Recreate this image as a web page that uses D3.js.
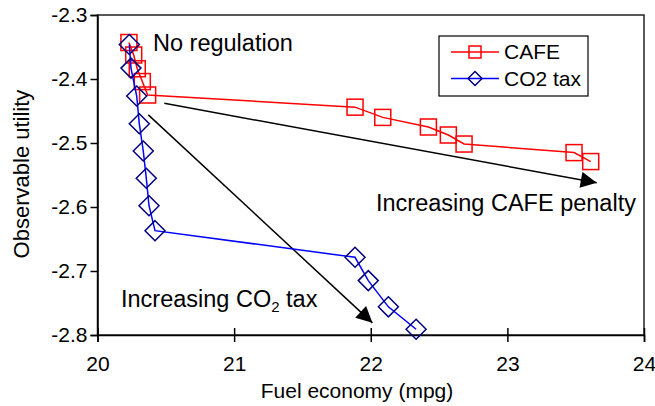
<!DOCTYPE html>
<html>
<head>
<meta charset="utf-8">
<script src="https://cdn.jsdelivr.net/npm/d3@7"></script>
<style>
  body { margin: 0; background: #fff; }
  svg { display: block; font-family: Arial, "Liberation Sans", sans-serif; }
</style>
</head>
<body>
<svg id="chart" width="655" height="406"></svg>
<script>
// data
const cafeX = [20.23, 20.265, 20.291, 20.328, 20.367, 21.885, 22.088, 22.422, 22.568, 22.683, 23.488, 23.61];
const cafeY = [-2.343, -2.3625, -2.384, -2.404, -2.425, -2.444, -2.460, -2.475, -2.4875, -2.5016, -2.515, -2.529];

const co2X = [20.233, 20.245, 20.287, 20.306, 20.335, 20.357, 20.377, 20.421, 21.885, 21.982, 22.129, 22.332];
const co2Y = [-2.346, -2.383, -2.4266, -2.470, -2.5125, -2.555, -2.598, -2.637, -2.6786, -2.715, -2.756, -2.791];

const xTicks = [20, 21, 22, 23, 24];
const yTicks = [-2.3, -2.4, -2.5, -2.6, -2.7, -2.8];

// annotation arrows, in data units: [x1, y1, x2, y2]
const arrows = [
    [20.489, -2.438, 23.654, -2.562],
    [20.372, -2.456, 22.012, -2.781]
];

const svg = d3.select('#chart');
const plot = { left: 97.5, right: 644, top: 15, bottom: 335 };

const x = d3.scaleLinear().domain([20, 24]).range([plot.left, plot.right]);
const y = d3.scaleLinear().domain([-2.8, -2.3]).range([plot.bottom, plot.top]);

// arrowhead
svg.append('defs').append('marker')
    .attr('id', 'arrow')
    .attr('viewBox', '0 0 10 10')
    .attr('refX', 10).attr('refY', 5)
    .attr('markerWidth', 18).attr('markerHeight', 16)
    .attr('markerUnits', 'userSpaceOnUse')
    .attr('orient', 'auto')
    .append('path')
    .attr('d', 'M0,0 L10,5 L0,10 Z')
    .attr('fill', '#000');

// plot frame
svg.append('rect')
    .attr('x', plot.left).attr('y', plot.top)
    .attr('width', plot.right - plot.left)
    .attr('height', plot.bottom - plot.top)
    .attr('fill', 'none')
    .attr('stroke', '#222')
    .attr('stroke-width', 1.5);

// y axis
const yAxis = svg.append('g')
    .attr('transform', `translate(${plot.left},0)`)
    .call(d3.axisLeft(y).tickValues(yTicks).tickSize(7).tickPadding(3).tickFormat(d => d.toFixed(1)));
yAxis.select('.domain').attr('stroke', '#000').attr('stroke-width', 1.5);
yAxis.selectAll('.tick line').attr('stroke', '#000').attr('stroke-width', 1.5);
yAxis.selectAll('.tick text')
    .attr('font-size', '21px')
    .attr('font-family', 'Arial, "Liberation Sans", sans-serif')
    .attr('fill', '#000');

// x axis with crossing ticks
const xAxis = svg.append('g')
    .attr('transform', `translate(0,${plot.bottom})`)
    .call(d3.axisBottom(x).tickValues(xTicks).tickSize(7).tickPadding(14).tickFormat(d3.format('d')));
xAxis.select('.domain').attr('stroke', '#000').attr('stroke-width', 1.5);
xAxis.selectAll('.tick line').attr('y1', -7).attr('y2', 7)
    .attr('stroke', '#000').attr('stroke-width', 1.5);
xAxis.selectAll('.tick text')
    .attr('font-size', '21px')
    .attr('font-family', 'Arial, "Liberation Sans", sans-serif')
    .attr('fill', '#000');

// axis titles
svg.append('text')
    .attr('x', 357)
    .attr('y', 398)
    .attr('text-anchor', 'middle')
    .attr('font-size', '21px')
    .text('Fuel economy (mpg)');

svg.append('text')
    .attr('transform', 'translate(29,174) rotate(-90)')
    .attr('text-anchor', 'middle')
    .attr('font-size', '22px')
    .text('Observable utility');

// arrows
svg.selectAll('.arrow')
    .data(arrows)
    .join('line')
    .attr('class', 'arrow')
    .attr('x1', d => x(d[0])).attr('y1', d => y(d[1]))
    .attr('x2', d => x(d[2])).attr('y2', d => y(d[3]))
    .attr('stroke', '#000')
    .attr('stroke-width', 1.5)
    .attr('marker-end', 'url(#arrow)');

// series
const cafe = cafeX.map((v, i) => [v, cafeY[i]]);
const co2 = co2X.map((v, i) => [v, co2Y[i]]);

const line = d3.line().x(d => x(d[0])).y(d => y(d[1]));

svg.append('path')
    .datum(cafe)
    .attr('d', line)
    .attr('fill', 'none')
    .attr('stroke', '#ff0000')
    .attr('stroke-width', 1.5);

svg.selectAll('.sq')
    .data(cafe)
    .join('rect')
    .attr('class', 'sq')
    .attr('x', d => x(d[0]) - 8).attr('y', d => y(d[1]) - 8)
    .attr('width', 16).attr('height', 16)
    .attr('fill', 'none')
    .attr('stroke', '#ff0000')
    .attr('stroke-width', 1.5);

svg.append('path')
    .datum(co2)
    .attr('d', line)
    .attr('fill', 'none')
    .attr('stroke', '#0000ff')
    .attr('stroke-width', 1.5);

const diamond = 'M0,-10 L10,0 L0,10 L-10,0 Z';
svg.selectAll('.dm')
    .data(co2)
    .join('path')
    .attr('class', 'dm')
    .attr('transform', d => `translate(${x(d[0])},${y(d[1])})`)
    .attr('d', diamond)
    .attr('fill', 'none')
    .attr('stroke', '#000080')
    .attr('stroke-width', 1.5);

// annotations
svg.append('text')
    .attr('x', 153).attr('y', 51)
    .attr('font-size', '23.5px')
    .text('No regulation');

svg.append('text')
    .attr('x', 376).attr('y', 211)
    .attr('font-size', '23.5px')
    .text('Increasing CAFE penalty');

const co2Label = svg.append('text')
    .attr('x', 121).attr('y', 307)
    .attr('font-size', '23.5px');
co2Label.append('tspan').text('Increasing CO');
co2Label.append('tspan').attr('font-size', '15px').attr('dy', 5).text('2');
co2Label.append('tspan').attr('dy', -5).text(' tax');

// legend
const legend = svg.append('g').attr('transform', 'translate(439,36)');
legend.append('rect')
    .attr('width', 149).attr('height', 60)
    .attr('fill', '#fff')
    .attr('stroke', '#000')
    .attr('stroke-width', 1.2);

const legendItems = [
    { name: 'CAFE', color: '#ff0000', marker: 'square', stroke: '#ff0000' },
    { name: 'CO2 tax', color: '#0000ff', marker: 'diamond', stroke: '#000080' }
];

const item = legend.selectAll('.item')
    .data(legendItems)
    .join('g')
    .attr('class', 'item')
    .attr('transform', (d, i) => `translate(0,${16 + i * 26.5})`);

item.append('line')
    .attr('x1', 12).attr('x2', 60)
    .attr('stroke', d => d.color)
    .attr('stroke-width', 1.5);

item.each(function(d) {
    const g = d3.select(this);
    if (d.marker === 'square') {
        g.append('rect')
            .attr('x', 30).attr('y', -6).attr('width', 12).attr('height', 12)
            .attr('fill', 'none').attr('stroke', d.stroke).attr('stroke-width', 1.5);
    } else {
        g.append('path')
            .attr('transform', 'translate(36,0)')
            .attr('d', 'M0,-7 L7,0 L0,7 L-7,0 Z')
            .attr('fill', 'none').attr('stroke', d.stroke).attr('stroke-width', 1.5);
    }
});

item.append('text')
    .attr('x', 65).attr('y', 7)
    .attr('font-size', '21px')
    .text(d => d.name);
</script>
</body>
</html>
